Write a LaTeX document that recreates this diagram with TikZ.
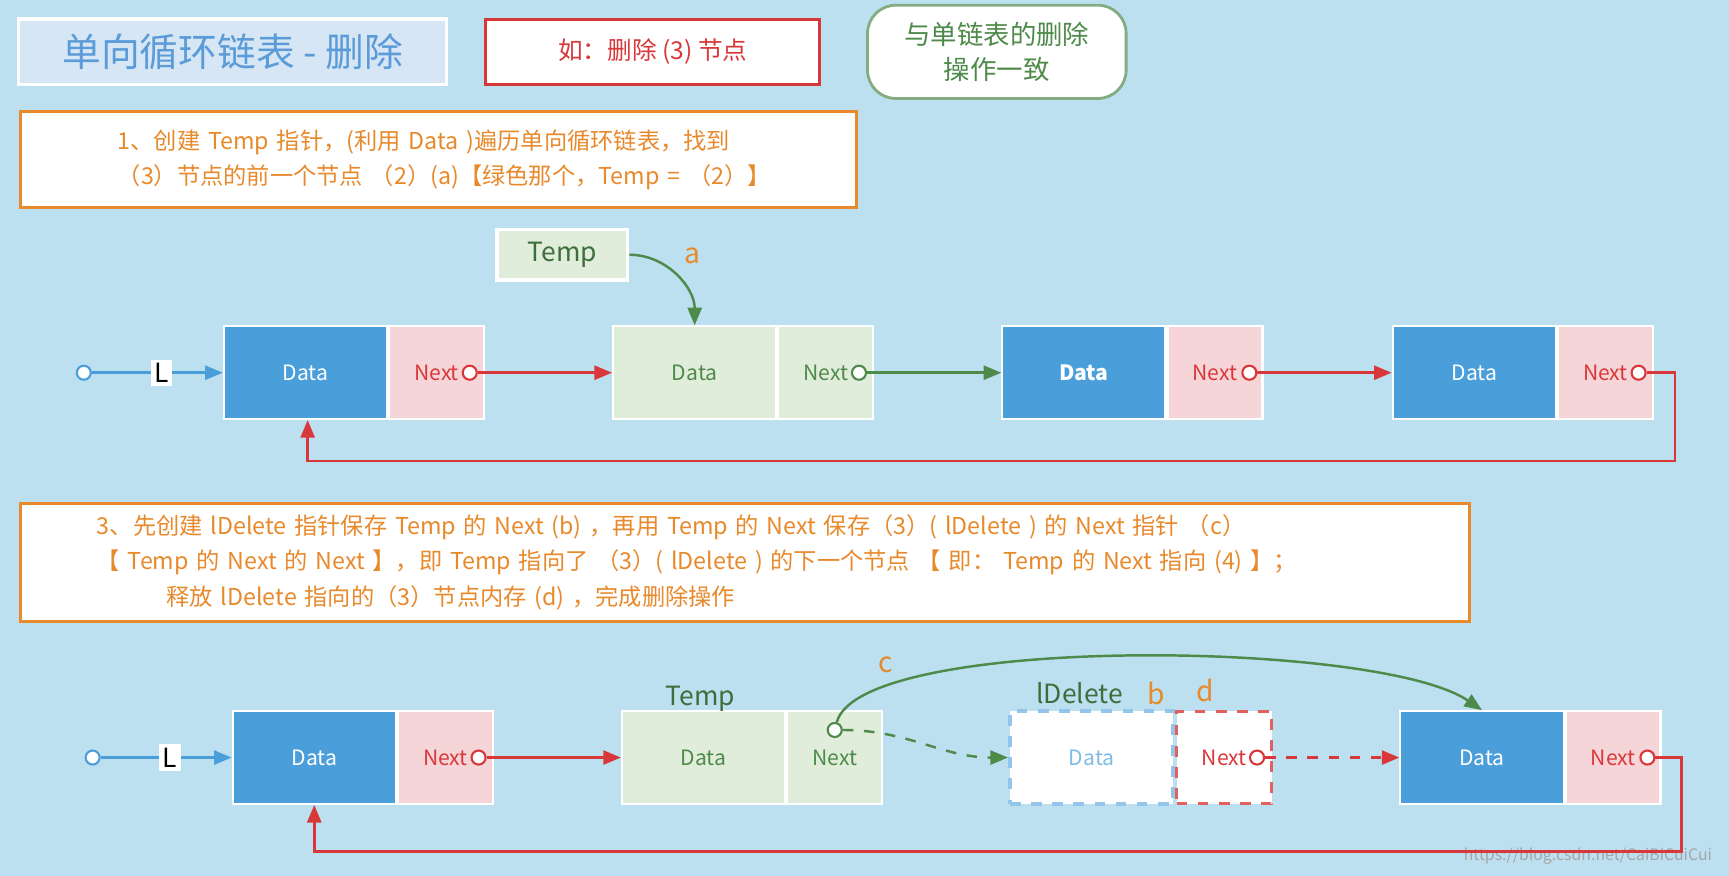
\documentclass[tikz,border=0pt]{standalone}
\usepackage{fontspec}
\setmainfont{Noto Sans CJK SC}
\usetikzlibrary{arrows.meta,positioning}
\definecolor{bgblue}{HTML}{BDE0F1}
\definecolor{nodeblue}{HTML}{4A9FDB}
\definecolor{nodepink}{HTML}{F6D5D8}
\definecolor{nodegreen}{HTML}{E1EDDB}
\definecolor{txtgreen}{HTML}{4E8A4A}
\definecolor{txtorange}{HTML}{E8892B}
\definecolor{txtred}{HTML}{D9383A}
\definecolor{titleblue}{HTML}{5A9BD8}
\begin{document}
\begin{tikzpicture}[x=0.011cm,y=-0.011cm,
    cell/.style={draw=white, line width=0.6pt, minimum height=0.924cm, font=\fontsize{6}{7}\selectfont, inner sep=0pt},
    datab/.style={cell, fill=nodeblue, text=white, minimum width=1.628cm},
    datag/.style={cell, fill=nodegreen, text=txtgreen, minimum width=1.628cm},
    nextp/.style={cell, fill=nodepink, text=txtred, minimum width=0.946cm},
    nextg/.style={cell, fill=nodegreen, text=txtgreen, minimum width=0.946cm},
    note/.style={draw=txtorange, fill=white, line width=0.8pt, text=txtorange, align=left, anchor=north west, font=\fontsize{6.6}{10}\selectfont, inner sep=0pt},
    dot/.style={circle, draw=#1, fill=white, line width=0.6pt, inner sep=0pt, minimum size=0.14cm},
    link/.style={-{Triangle[length=5pt,width=4pt]}, line width=0.7pt},
    lbl/.style={text=txtorange, font=\fontsize{8}{9}\selectfont},
    head/.style={fill=white, inner sep=1pt, text=black, font=\fontsize{7.5}{8}\selectfont}
]
\useasboundingbox[fill=bgblue] (0,0) rectangle (1568,794);

% Header boxes
\node[draw=white, fill=titleblue!25, line width=1pt, minimum width=4.27cm, minimum height=0.65cm, text=titleblue, font=\fontsize{11}{12}\selectfont] (title) at (211,47) {单向循环链表 - 删除};
\node[draw=txtred, fill=white, line width=0.8pt, minimum width=3.33cm, minimum height=0.65cm, text=txtred, font=\fontsize{7}{8}\selectfont] (example) at (592,47) {如：删除 (3) 节点};
\node[draw=txtgreen!70, fill=white, line width=0.8pt, rounded corners=8pt, minimum width=2.58cm, minimum height=0.93cm, text=txtgreen, align=center, font=\fontsize{7.5}{10}\selectfont] (same) at (904,47) {与单链表的删除\\操作一致};

% Step notes
\node[note, minimum width=8.34cm, minimum height=0.96cm, text width=8.34cm] (step1) at (17,100) {\hspace{4.2em}1、创建 Temp 指针，(利用 Data )遍历单向循环链表，找到\\\hspace{4.2em}（3）节点的前一个节点 （2）(a)【绿色那个，Temp = （2）】};
\node[note, minimum width=14.46cm, minimum height=1.18cm, text width=14.46cm] (step3) at (17,455) {\hspace{3.3em}3、先创建 lDelete 指针保存 Temp 的 Next (b) ，再用 Temp 的 Next 保存（3）( lDelete ) 的 Next 指针 （c）\\\hspace{3.3em}【 Temp 的 Next 的 Next 】，即 Temp 指向了 （3）( lDelete ) 的下一个节点 【 即： Temp 的 Next 指向 (4) 】；\\\hspace{6.3em}释放 lDelete 指向的（3）节点内存 (d) ，完成删除操作};

% Row 1
\node[dot=nodeblue] (start1) at (76,338) {};
\node[datab] (d11) at (277,338) {Data};
\node[nextp, right=0pt of d11] (n11) {Next};
\node[datag] (d12) at (630,338) {Data};
\node[nextg, right=0pt of d12] (n12) {Next};
\node[datab, font=\fontsize{6}{7}\selectfont\bfseries] (d13) at (983,338) {Data};
\node[nextp, right=0pt of d13] (n13) {Next};
\node[datab] (d14) at (1337,338) {Data};
\node[nextp, right=0pt of d14] (n14) {Next};
\node[dot=txtred] (c11) at (426,338) {};
\node[dot=txtgreen] (c12) at (779,338) {};
\node[dot=txtred] (c13) at (1133,338) {};
\node[dot=txtred] (c14) at (1486,338) {};
\node[draw=white, fill=nodegreen, line width=1pt, minimum width=1.3cm, minimum height=0.5cm, text=txtgreen!80!black, font=\fontsize{7.5}{8}\selectfont] (temp1) at (510,231) {Temp};
\node[lbl] at (628,232) {a};
\coordinate (r1a) at (1519,338);
\coordinate (r1b) at (1519,418);
\coordinate (r1c) at (279,418);

\draw[link, nodeblue] (start1) -- node[head, pos=0.53] {L} (d11);
\draw[link, txtred] (c11) -- (d12);
\draw[link, txtgreen] (c12) -- (d13);
\draw[link, txtred] (c13) -- (d14);
\draw[link, txtred] (c14) -- (r1a) -- (r1b) -- (r1c) -- (d11.south -| r1c);
\draw[link, txtgreen] (temp1.east) to[out=0,in=90] (d12.north);

% Row 2
\node[dot=nodeblue] (start2) at (84,687) {};
\node[datab] (d21) at (285,687) {Data};
\node[nextp, right=0pt of d21] (n21) {Next};
\node[datag] (d22) at (638,687) {Data};
\node[nextg, right=0pt of d22] (n22) {Next};
\node[cell, fill=white, draw=nodeblue!60, dashed, line width=1.2pt, text=nodeblue!70, minimum width=1.628cm] (d23) at (990,687) {Data};
\node[cell, fill=white, draw=txtred!80, dashed, line width=0.8pt, text=txtred, minimum width=0.946cm, right=0pt of d23] (n23) {Next};
\node[datab] (d24) at (1344,687) {Data};
\node[nextp, right=0pt of d24] (n24) {Next};
\node[dot=txtred] (c21) at (434,687) {};
\node[dot=txtgreen] (c22) at (757,662) {};
\node[dot=txtred] (c23) at (1140,687) {};
\node[dot=txtred] (c24) at (1494,687) {};
\node[text=txtgreen!80!black, font=\fontsize{7.5}{8}\selectfont] (temp2) at (635,634) {Temp};
\node[text=txtgreen!80!black, font=\fontsize{7.5}{8}\selectfont] (ldel) at (979,629) {lDelete};
\node[lbl, right=0pt of ldel] {b};
\node[lbl] at (1093,626) {d};
\node[lbl] at (803,603) {c};
\node[text=gray!70, font=\fontsize{4.5}{5}\selectfont] at (1440,776) {https://blog.csdn.net/CaiBiCuiCui};
\coordinate (r2a) at (1525,687);
\coordinate (r2b) at (1525,772);
\coordinate (r2c) at (285,772);

\draw[link, nodeblue] (start2) -- node[head, pos=0.53] {L} (d21);
\draw[link, txtred] (c21) -- (d22);
\draw[link, txtgreen, dashed] (c22) to[out=0,in=180] (d23.west);
\draw[link, txtred, dashed] (c23) -- (d24);
\draw[link, txtgreen] (c22) .. controls (780,575) and (1250,580) .. (d24.north);
\draw[link, txtred] (c24) -- (r2a) -- (r2b) -- (r2c) -- (d21.south);
\end{tikzpicture}
\end{document}
